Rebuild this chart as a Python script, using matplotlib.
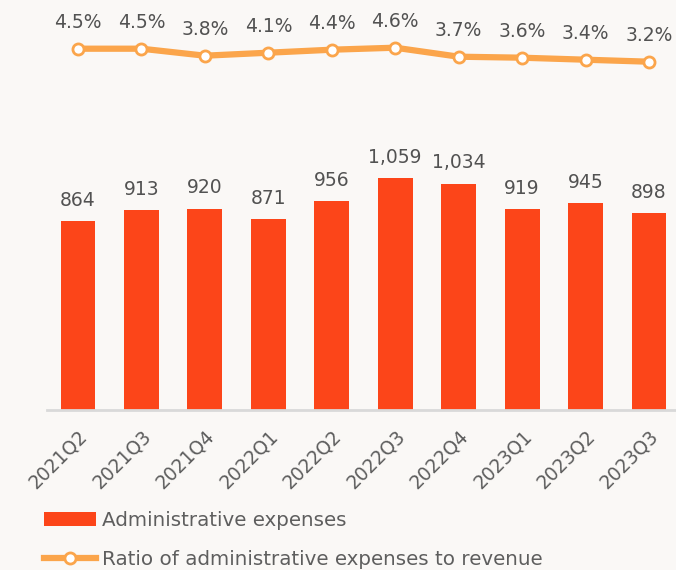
import matplotlib

matplotlib.use("Agg")
import matplotlib.pyplot as plt
from matplotlib.lines import Line2D
from matplotlib.patches import Patch

QUARTERS = ["2021Q2", "2021Q3", "2021Q4", "2022Q1", "2022Q2",
            "2022Q3", "2022Q4", "2023Q1", "2023Q2", "2023Q3"]
EXPENSES = [864, 913, 920, 871, 956, 1059, 1034, 919, 945, 898]
RATIO = [4.5, 4.5, 3.8, 4.1, 4.4, 4.6, 3.7, 3.6, 3.4, 3.2]

BG = "#FAF8F6"
BAR_COLOR = "#FC4519"
LINE_COLOR = "#FBA54B"
TEXT_COLOR = "#525252"

plt.rcParams.update({
    "font.family": ["DejaVu Sans"],
    "text.color": TEXT_COLOR,
})

fig = plt.figure(figsize=(6.76, 5.70), dpi=100, facecolor=BG)
ax = fig.add_axes([47 / 676, 160 / 570, 629 / 676, 410 / 570])
ax.set_facecolor("none")

x = list(range(len(QUARTERS)))
ax.bar(x, EXPENSES, width=0.55, color=BAR_COLOR, zorder=2)
for xi, v in zip(x, EXPENSES):
    ax.annotate(f"{v:,}", (xi, v), xytext=(0, 8), textcoords="offset points",
                ha="center", va="bottom", fontsize=13.5, color=TEXT_COLOR)

ax.set_xlim(-0.489, 9.426)
ax.set_ylim(0, 1872)
ax.set_yticks([])
for s in ("top", "right", "left"):
    ax.spines[s].set_visible(False)
ax.spines["bottom"].set_color("#D9D9D9")
ax.spines["bottom"].set_linewidth(2)
ax.set_xticks(x)
ax.set_xticklabels(QUARTERS, rotation=45, ha="right", rotation_mode="anchor",
                   fontsize=13.5, color="#5E5E5E")
ax.tick_params(axis="x", length=0, pad=12)

ax2 = ax.twinx()
ax2.set_ylim(-31.63, 9.37)
ax2.axis("off")
ax2.plot(x, RATIO, color=LINE_COLOR, linewidth=4.5, marker="o", markersize=8,
         markerfacecolor="white", markeredgecolor=LINE_COLOR,
         markeredgewidth=2, zorder=3)
for xi, v in zip(x, RATIO):
    ax2.annotate(f"{v:.1f}%", (xi, v), xytext=(0, 12), textcoords="offset points",
                 ha="center", va="bottom", fontsize=13.5, color=TEXT_COLOR)

handles = [
    Patch(facecolor=BAR_COLOR, edgecolor="none", label="Administrative expenses"),
    Line2D([], [], color=LINE_COLOR, linewidth=4.5, marker="o", markersize=8,
           markerfacecolor="white", markeredgecolor=LINE_COLOR, markeredgewidth=2,
           label="Ratio of administrative expenses to revenue"),
]
fig.legend(handles=handles, loc="upper left", bbox_to_anchor=(34 / 676, 1 - 501 / 570),
           frameon=False, fontsize=14.3, handlelength=2.6, handletextpad=0.3,
           labelspacing=1.0, labelcolor="#5E5E5E", borderpad=0)

fig.savefig("out.png", dpi=100, facecolor=BG)
